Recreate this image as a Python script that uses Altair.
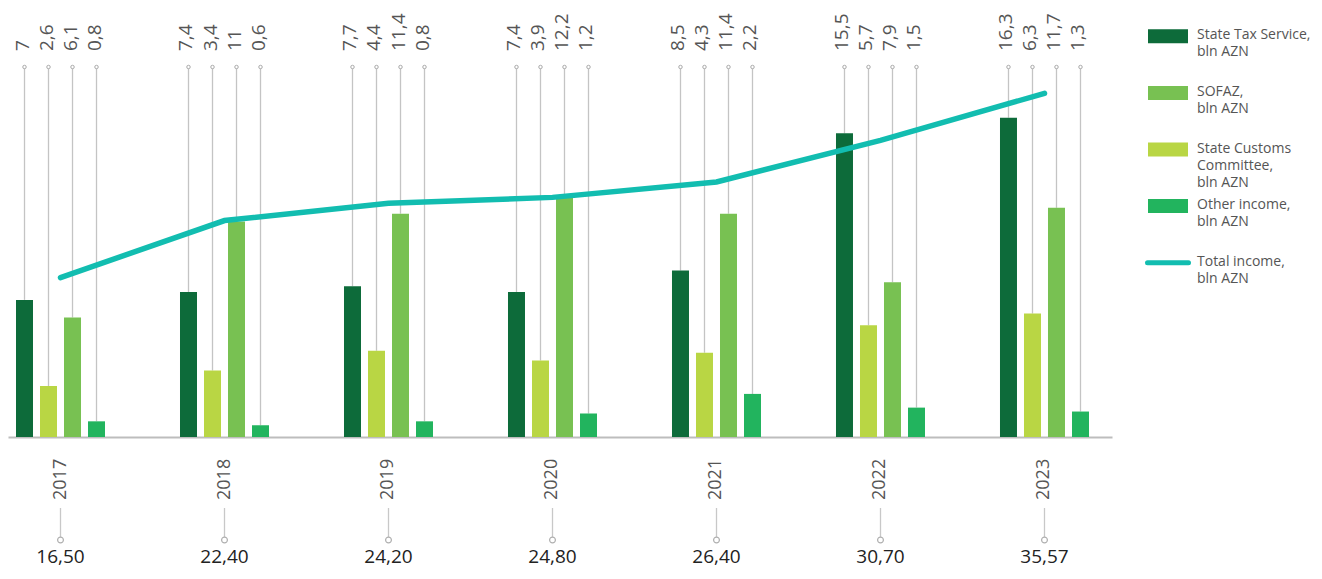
import altair as alt
import pandas as pd

years = ["2017", "2018", "2019", "2020", "2021", "2022", "2023"]
state_tax = [7, 7.4, 7.7, 7.4, 8.5, 15.5, 16.3]
customs = [2.6, 3.4, 4.4, 3.9, 4.3, 5.7, 6.3]
sofaz = [6.1, 11, 11.4, 12.2, 11.4, 7.9, 11.7]
other = [0.8, 0.6, 0.8, 1.2, 2.2, 1.5, 1.3]
total = [16.50, 22.40, 24.20, 24.80, 26.40, 30.70, 35.57]

series_names = ["State Tax Service", "State Customs Committee", "SOFAZ", "Other income"]
series_colors = ["#0D6B3A", "#B9D644", "#78C152", "#22B45E"]
line_color = "#12BDB0"

legend_labels = [
    "State Tax Service,\nbln AZN",
    "SOFAZ,\nbln AZN",
    "State Customs\nCommittee,\nbln AZN",
    "Other income,\nbln AZN",
    "Total income,\nbln AZN",
]
legend_colors = ["#0D6B3A", "#78C152", "#B9D644", "#22B45E", "#12BDB0"]
legend_kind = ["bar", "bar", "bar", "bar", "line"]

FONT = "Open Sans"

rows = []
for name, vals in zip(series_names, [state_tax, customs, sofaz, other]):
    for y, v in zip(years, vals):
        rows.append({"year": y, "series": name, "value": v})
df = pd.DataFrame(rows)
df_total = pd.DataFrame({"year": years, "total": total})
leg_df = pd.DataFrame({"label": legend_labels, "color": legend_colors, "kind": legend_kind})

PLOT_W = 1104
xenc = alt.X(
    "year:N",
    sort=years,
    scale=alt.Scale(type="band", range=[0, PLOT_W], paddingInner=0.4146,
                    paddingOuter=0.0732, align=0.1875),
    axis=alt.Axis(labels=False, ticks=False, domain=True, domainColor="#bdbdbd",
                  domainWidth=2, title=None, grid=False),
)
xoff = alt.XOffset("series:N", sort=series_names,
                   scale=alt.Scale(paddingInner=0.2917, paddingOuter=0.1458))
ybar_scale = alt.Scale(domain=[0, 21.9], nice=False, zero=True)

rules = alt.Chart(df).mark_rule(color="#c4c4c4", strokeWidth=1.3).encode(
    x=xenc, xOffset=xoff,
    y=alt.Y("value:Q", scale=ybar_scale, axis=None),
    y2=alt.value(59),
)

bars = alt.Chart(df).mark_bar().encode(
    x=xenc, xOffset=xoff,
    y=alt.Y("value:Q", scale=ybar_scale, axis=None),
    color=alt.Color("series:N", scale=alt.Scale(domain=series_names, range=series_colors), legend=None),
)

line = alt.Chart(df_total).mark_line(color=line_color, strokeWidth=5.5, strokeCap="round").encode(
    x=xenc,
    y=alt.Y("total:Q", scale=alt.Scale(domain=[0, 44.4], nice=False), axis=None),
)

top_circles = alt.Chart(df).mark_point(shape="circle", filled=True, fill="white", stroke="#aaaaaa",
                                       strokeWidth=1, size=12, opacity=1).encode(
    x=xenc, xOffset=xoff, y=alt.value(59),
)

top_labels = alt.Chart(df).transform_calculate(
    label="replace(format(datum.value, ''), '.', ',')"
).mark_text(angle=270, align="left", baseline="middle", fontSize=19, color="#555555",
            font=FONT, dy=-2).encode(
    x=xenc, xOffset=xoff, y=alt.value(43), text="label:N",
)

year_labels = alt.Chart(df_total).mark_text(angle=270, align="left", baseline="middle", fontSize=18,
                                            color="#555555", font=FONT).encode(
    x=xenc, y=alt.value(492), text="year:N",
)

bottom_rules = alt.Chart(df_total).mark_rule(color="#c8c8c8", strokeWidth=1.3).encode(
    x=xenc, y=alt.value(500), y2=alt.value(529),
)

bottom_circles = alt.Chart(df_total).mark_point(shape="circle", filled=True, fill="white",
                                                stroke="#b0b0b0", strokeWidth=1.2, size=34,
                                                opacity=1).encode(
    x=xenc, y=alt.value(532),
)

total_labels = alt.Chart(df_total).transform_calculate(
    label="replace(format(datum.total, '.2f'), '.', ',')"
).mark_text(align="center", baseline="alphabetic", fontSize=19, color="#222222", font=FONT).encode(
    x=xenc, y=alt.value(555), text="label:N",
)

# hand-built legend on the right, inside the same view
LEG_X = 1140
ly = alt.Y("label:N", sort=legend_labels,
           scale=alt.Scale(type="point", domain=legend_labels, range=[0, 283], padding=0.5),
           axis=None)

leg_rects = alt.Chart(leg_df).transform_filter("datum.kind == 'bar'").mark_point(
    shape="M-1,-0.35L1,-0.35L1,0.35L-1,0.35Z", filled=True, size=1600, opacity=1, strokeWidth=0
).encode(x=alt.value(LEG_X + 20), y=ly, color=alt.Color("color:N", scale=None))

leg_line = alt.Chart(leg_df).transform_filter("datum.kind == 'line'").mark_point(
    shape="M-1,0L1,0", filled=False, size=1681, opacity=1, strokeWidth=5, strokeCap="round"
).encode(x=alt.value(LEG_X + 20), y=ly, color=alt.Color("color:N", scale=None))

leg_text = alt.Chart(leg_df).mark_text(
    align="left", baseline="top", fontSize=14, lineHeight=17, color="#555555",
    lineBreak="\n", dy=-8, font=FONT
).encode(x=alt.value(LEG_X + 49), y=ly, text="label:N")

chart = alt.layer(
    rules, bars, line, top_circles, top_labels, year_labels, bottom_rules, bottom_circles,
    total_labels, leg_rects, leg_line, leg_text
).resolve_scale(y="independent").properties(
    width=1260, height=429, padding={"left": 0, "top": 0, "right": 0, "bottom": 3}
).configure(font=FONT, view=alt.ViewConfig(strokeWidth=0, stroke=None))

chart.save("out.html", embed_options={"renderer": "svg", "actions": False})
